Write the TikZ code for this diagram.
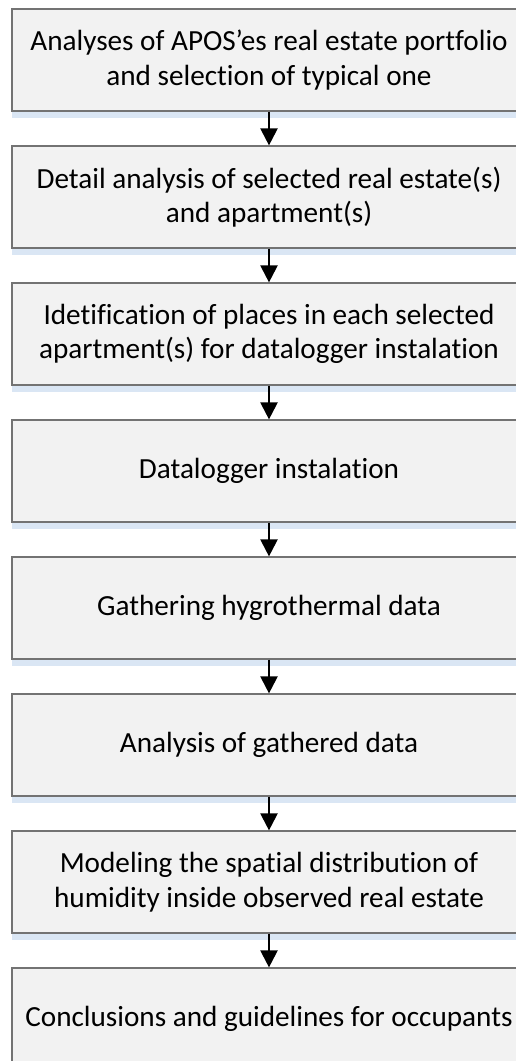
\documentclass[tikz,border=0pt]{standalone}
\usepackage{fontspec}
\setmainfont{Carlito}[Ligatures=NoCommon]
\usetikzlibrary{arrows.meta,positioning,shadows}

\definecolor{boxfill}{RGB}{242,242,242}
\definecolor{shadowblue}{RGB}{218,230,244}

\tikzset{
  stage/.style={draw=black!55, line width=1.2pt, fill=boxfill,
    minimum width=514pt, minimum height=102pt, align=center,
    font=\fontsize{29.2}{34.5}\selectfont,
    drop shadow={shadow xshift=0pt, shadow yshift=-7pt, fill=shadowblue, opacity=1}},
  flow/.style={-{Triangle[width=17pt,length=17pt]}, line width=2.2pt}
}

\begin{document}
\begin{tikzpicture}[x=1pt, y=1pt, node distance=137pt]
\useasboundingbox (0,0) rectangle (515,-1061);
% Specification of nodes (position, etc.)

\node (portfolio)     [stage] at (269,-60)         {Analyses of APOS’es real estate portfolio\\and selection of typical one};
\node (detail)        [stage, below of=portfolio]  {Detail analysis of selected real estate(s)\\and apartment(s)};
\node (places)        [stage, below of=detail]     {Idetification of places in each selected\\apartment(s) for datalogger instalation};
\node (install)       [stage, below of=places]     {Datalogger instalation};
\node (gathering)     [stage, below of=install]    {Gathering hygrothermal data};
\node (analysis)      [stage, below of=gathering]  {Analysis of gathered data};
\node (modeling)      [stage, below of=analysis]   {Modeling the spatial distribution of\\humidity inside observed real estate};
\node (conclusions)   [stage, below of=modeling]   {Conclusions and guidelines for occupants};

\draw[flow]           (portfolio) -- (detail);
\draw[flow]           (detail) -- (places);
\draw[flow]           (places) -- (install);
\draw[flow]           (install) -- (gathering);
\draw[flow]           (gathering) -- (analysis);
\draw[flow]           (analysis) -- (modeling);
\draw[flow]           (modeling) -- (conclusions);

\end{tikzpicture}
\end{document}
